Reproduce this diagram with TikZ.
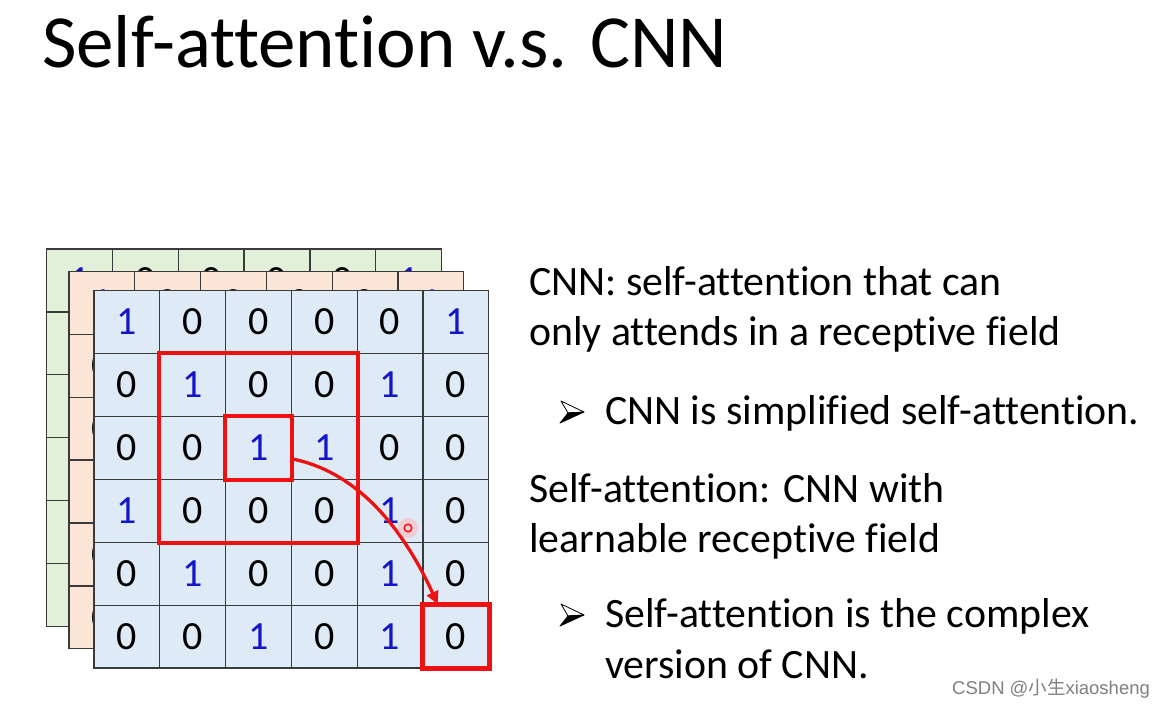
\documentclass[tikz,border=0pt]{standalone}
\usepackage{fontspec}
\setmainfont{Carlito}[Ligatures={NoCommon}]
\newfontfamily\cjkfont{Noto Sans CJK SC}
\newfontfamily\wmfont{Liberation Sans}
\usetikzlibrary{arrows.meta}
\definecolor{cellblue}{HTML}{DEEBF7}
\definecolor{cellorange}{HTML}{FBE5D6}
\definecolor{cellgreen}{HTML}{E2F0D9}
\definecolor{digitblue}{HTML}{1515C8}
\definecolor{gridline}{HTML}{3A3A3A}
\definecolor{hlred}{HTML}{EE1111}
\newcommand\drawlayer[4]{%
  \foreach \row [count=\r from 0] in {{1,0,0,0,0,1},{0,1,0,0,1,0},{0,0,1,1,0,0},{1,0,0,0,1,0},{0,1,0,0,1,0},{0,0,1,0,1,0}} {
    \foreach \v [count=\c from 0] in \row {
      \ifnum\v=1 \def\dcol{digitblue}\else\def\dcol{black}\fi
      \node[cell, fill=#4, text=\dcol] (#1-\r-\c) at (#2+\c*65.8, #3+\r*62.9) {\v};
    }
  }%
}
\begin{document}
\begin{tikzpicture}[x=1pt,y=-1pt,
  cell/.style={draw=gridline, line width=1.3pt, minimum width=65.8pt, minimum height=62.9pt,
    inner sep=0pt, anchor=north west, font=\fontsize{40}{40}\selectfont},
  redbox/.style={draw=hlred, line width=4.5pt},
  redarrow/.style={draw=hlred, line width=3.3pt, -{Triangle[length=13pt,width=12pt]}},
  body/.style={anchor=base west, inner sep=0pt, font=\fontsize{41.8}{41.8}\selectfont},
  title/.style={anchor=base west, inner sep=0pt, font=\fontsize{75}{75}\selectfont},
  bulletup/.style={fill=white, draw=black, line width=0.8pt, line join=round},
  bulletdown/.style={fill=black, draw=black, line width=0.8pt, line join=round}]
\useasboundingbox[fill=white] (0,0) rectangle (1167,707);

\node[title] (title) at (42,67) {Self-attention v.s. CNN};

% layers
\drawlayer{g}{46}{248.3}{cellgreen}
\drawlayer{o}{68.3}{270.7}{cellorange}
\drawlayer{f}{93.3}{290}{cellblue}

% highlight boxes
\draw[redbox] (f-1-1.north west) rectangle (f-3-3.south east);
\draw[redbox] (f-2-2.north west) rectangle (f-2-2.south east);
\draw[redbox] (f-5-5.north west) rectangle (f-5-5.south east);
\draw[redarrow] ([yshift=-11pt]f-2-2.east) .. controls +(62,12) and +(-37,-81) .. ([xshift=-18pt]f-5-5.north);

% cursor mark
\coordinate (cursor) at (408,528);
\fill[red!30, opacity=0.5] (cursor) circle (10);
\draw[hlred, line width=1.5pt] (cursor) circle (3.8);

% text
\node[body] (l1) at (529,295) {CNN: self-attention that can};
\node[body] (l2) at (529,345) {only attends in a receptive field};
\node[body] (b1) at (605,424) {CNN is simplified self-attention.};
\node[body] (l3) at (529,502) {Self-attention: CNN with};
\node[body] (l4) at (529,552) {learnable receptive field};
\node[body] (b2) at (605,627) {Self-attention is the complex};
\node[body] (b3) at (605,678) {version of CNN.};

% bullets
\foreach \cy/\nm in {411/ba, 614/bb} {
  \coordinate (\nm) at (572,\cy);
  \draw[bulletup] (561,\cy-10) -- (584,\cy+1) -- (568,\cy+2) -- cycle;
  \draw[bulletdown] (568,\cy+2) -- (584,\cy+1) -- (560,\cy+12) -- cycle;
}

% watermark
\node[anchor=base west, inner sep=0pt, text=black!50, font=\wmfont\fontsize{18.5}{18.5}\selectfont] (wm) at (952,694) {CSDN @{\cjkfont 小生}xiaosheng};
\end{tikzpicture}
\end{document}
